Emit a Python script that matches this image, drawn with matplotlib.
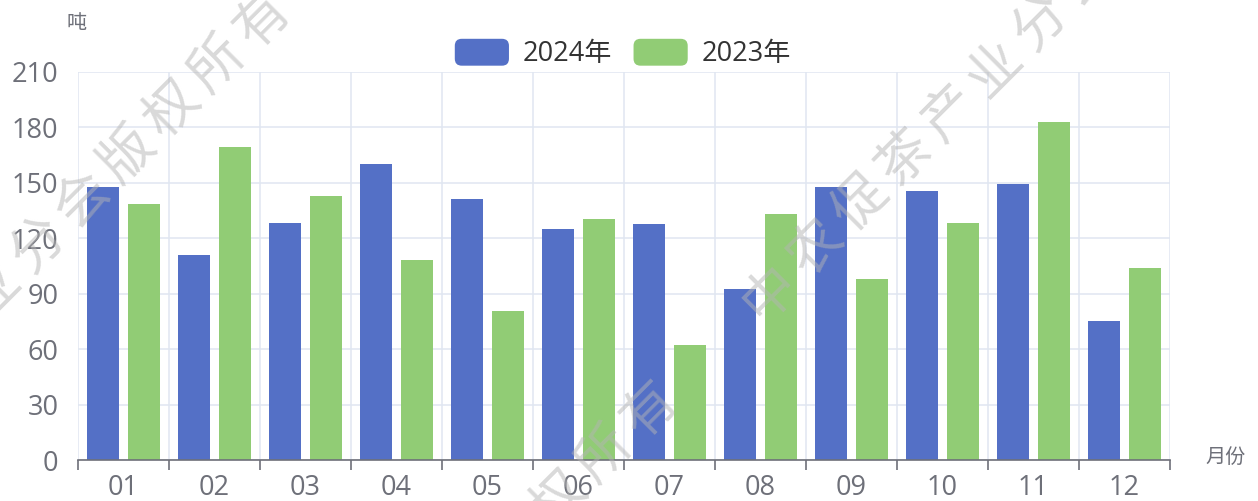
import matplotlib
matplotlib.use("Agg")
import matplotlib.pyplot as plt
import numpy as np
from matplotlib.patches import Patch, FancyBboxPatch
from matplotlib.legend_handler import HandlerPatch
from matplotlib.ticker import FixedLocator

plt.rcParams['font.family'] = ['Open Sans', 'Noto Sans CJK SC', 'DejaVu Sans']

months = ['01', '02', '03', '04', '05', '06', '07', '08', '09', '10', '11', '12']
tons_2024 = [147.5, 111, 128.5, 160, 141.5, 125, 128, 92.5, 148, 145.5, 149.5, 75.5]
tons_2023 = [138.5, 169.5, 143, 108.5, 80.5, 130.5, 62.5, 133, 98, 128.5, 183, 104]
series_names = ['2024年', '2023年']
y_ticks = [0, 30, 60, 90, 120, 150, 180, 210]
watermark = '中农促茶产业分会版权所有'

blue = '#5470c6'
green = '#91cc75'
grid_c = '#e0e6f1'
axis_c = '#6e7079'
W, H = 1258, 501


class RoundHandler(HandlerPatch):
    def create_artists(self, legend, orig_handle, xdescent, ydescent,
                       width, height, fontsize, trans):
        p = FancyBboxPatch((-xdescent, -ydescent), width, height,
                           boxstyle="round,pad=0,rounding_size=5",
                           fc=orig_handle.get_facecolor(), ec='none',
                           transform=trans)
        return [p]


fig = plt.figure(figsize=(W / 100, H / 100), dpi=100)
ax = fig.add_axes([0.062, 0.0818, 0.868, 0.7745])

x = np.arange(len(months))
w = 0.345
off = 0.2255
ax.bar(x - off, tons_2024, width=w, color=blue, zorder=3)
ax.bar(x + off, tons_2023, width=w, color=green, zorder=3)

ax.set_xlim(-0.5, len(months) - 0.5)
ax.set_ylim(0, 210)
ax.set_yticks(y_ticks)

# category boundaries as major ticks, labels at centers
ax.xaxis.set_major_locator(FixedLocator(np.arange(len(months) + 1) - 0.5))
ax.xaxis.set_minor_locator(FixedLocator(x))
ax.set_xticklabels([], minor=False)
ax.set_xticklabels(months, minor=True)
ax.tick_params(axis='x', which='major', length=7, width=1.2, color=axis_c, direction='out')
ax.tick_params(axis='x', which='minor', length=0, pad=10, labelsize=19.5, labelcolor=axis_c)
ax.tick_params(axis='y', length=0, pad=14, labelsize=19.5, labelcolor=axis_c)

ax.grid(True, which='major', color=grid_c, lw=1.1, zorder=0)
for s in ['top', 'right', 'left']:
    ax.spines[s].set_visible(False)
ax.spines['bottom'].set_color(axis_c)
ax.spines['bottom'].set_linewidth(1.2)
ax.spines['bottom'].set_zorder(4)

# axis names
fig.text(77 / W, 1 - 24 / H, '吨', ha='center', va='center', fontsize=14.5, color=axis_c)
fig.text(1205 / W, 1 - 458 / H, '月份', ha='left', va='center', fontsize=14.5, color=axis_c)

handles = [Patch(facecolor=blue), Patch(facecolor=green)]
fig.legend(handles, series_names, loc='center', bbox_to_anchor=(0.495, 0.893),
           ncol=2, frameon=False, fontsize=19.5, labelcolor='#333333',
           handlelength=2.0, handleheight=1.15, handletextpad=0.5,
           columnspacing=0.8, handler_map={Patch: RoundHandler()})

# watermark, one character at a time along a 45 degree line
step = 45
for x0, y0 in [(-232, 515), (770, 293), (155, 905)]:
    for i, ch in enumerate(watermark):
        px, py = x0 + i * step, y0 - i * step
        if -25 < px < W + 25 and -25 < py < H + 25:
            fig.text(px / W, 1 - py / H, ch, rotation=45, ha='center', va='center',
                     fontsize=39, color='#b4b4b4', alpha=0.5,
                     family='Noto Sans CJK SC', fontweight='light', zorder=10)

fig.savefig('out.png', dpi=100)
